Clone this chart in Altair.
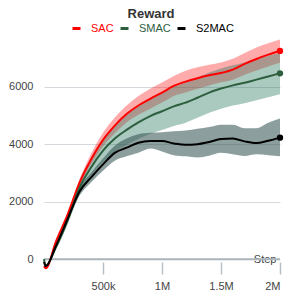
import altair as alt
import pandas as pd

steps = [0, 15000, 100000, 200000, 300000, 400000, 500000, 600000, 700000, 800000, 900000,
         1000000, 1100000, 1200000, 1300000, 1400000, 1500000, 1600000, 1700000, 1800000,
         1900000, 2000000]

sac_mean = [-250, -320, 600, 1550, 2650, 3480, 4150, 4650, 5050, 5350, 5580,
            5800, 6030, 6180, 6300, 6400, 6480, 6600, 6800, 6970, 7120, 7250]
sac_lo = [-250, -320, 580, 1480, 2520, 3300, 3920, 4380, 4760, 5030, 5240,
          5450, 5680, 5800, 5930, 6050, 6160, 6250, 6420, 6570, 6710, 6840]
sac_hi = [-250, -320, 620, 1620, 2780, 3680, 4400, 4930, 5350, 5680, 5930,
          6150, 6380, 6560, 6680, 6770, 6850, 6980, 7180, 7370, 7520, 7650]

smac_mean = [0, -230, 400, 1350, 2480, 3200, 3780, 4200, 4500, 4760, 4980,
             5150, 5320, 5450, 5620, 5800, 5940, 6050, 6140, 6250, 6360, 6470]
smac_lo = [0, -230, 330, 1200, 2240, 2870, 3380, 3730, 3980, 4190, 4370,
           4500, 4640, 4750, 4920, 5100, 5240, 5350, 5430, 5530, 5640, 5740]
smac_hi = [0, -230, 470, 1500, 2720, 3530, 4180, 4670, 5020, 5330, 5590,
           5800, 6000, 6150, 6320, 6500, 6640, 6750, 6850, 6970, 7080, 7190]

s2mac_mean = [-100, -250, 450, 1400, 2350, 2850, 3300, 3700, 3880, 4050, 4110,
              4110, 4030, 3980, 4000, 4080, 4180, 4200, 4100, 4040, 4120, 4230]
s2mac_lo = [-100, -250, 420, 1320, 2200, 2680, 3080, 3430, 3580, 3700, 3850,
            3750, 3620, 3580, 3540, 3600, 3700, 3650, 3590, 3650, 3620, 3580]
s2mac_hi = [-100, -250, 480, 1480, 2480, 3020, 3500, 3950, 4200, 4350, 4400,
            4420, 4450, 4480, 4540, 4600, 4680, 4680, 4560, 4560, 4750, 4900]

series = ["SAC", "SMAC", "S2MAC"]
line_colors = ["#ff0000", "#2d5e3e", "#000000"]
band_colors = ["#ff0000", "#2b785f", "#2f4f4f"]
band_opacity = [0.33, 0.4, 0.55]

rows = []
for name, m, lo, hi in [("SAC", sac_mean, sac_lo, sac_hi),
                        ("SMAC", smac_mean, smac_lo, smac_hi),
                        ("S2MAC", s2mac_mean, s2mac_lo, s2mac_hi)]:
    for s, a, b, c in zip(steps, m, lo, hi):
        rows.append({"step": s, "series": name, "mean": a, "lo": b, "hi": c})
df = pd.DataFrame(rows)

W = 236
H = 224
xscale = alt.Scale(domain=[0, 2000000], nice=False)
yscale = alt.Scale(domain=[-100, 7700], nice=False, zero=False)

base = alt.Chart(df)

x_label_expr = "datum.value >= 1000000 ? format(datum.value / 1000000, '~g') + 'M' : format(datum.value / 1000, '~g') + 'k'"

x_enc = alt.X("step:Q", scale=xscale,
              axis=alt.Axis(values=[500000, 1000000, 1500000, 2000000], labelExpr=x_label_expr,
                            grid=False, domain=False, tickSize=12, tickColor="#b8c0c6",
                            tickWidth=1.5, labelPadding=6, labelColor="#444",
                            labelFontSize=11, labelFont="Liberation Sans",
                            title="Step", titleX=W - 4, titleY=-3, titleAlign="right",
                            titleBaseline="middle", titleAnchor="end",
                            titleFontWeight="normal", titleFontSize=11,
                            titleColor="#444", titleFont="Liberation Sans"))
y_axis = alt.Axis(values=[0, 2000, 4000, 6000], format="d", grid=True,
                  gridColor="#d5d9dd", domain=False, ticks=False, labelPadding=11,
                  labelColor="#444", labelFontSize=11, labelFont="Liberation Sans",
                  title=None)

band_layers = []
for name, col, op in zip(series, band_colors, band_opacity):
    band_layers.append(
        base.transform_filter(alt.datum.series == name)
        .mark_area(interpolate="monotone", color=col, opacity=op)
        .encode(x=x_enc, y=alt.Y("lo:Q", scale=yscale, axis=y_axis), y2="hi:Q")
    )

zero = alt.Chart(pd.DataFrame({"y": [0]})).mark_rule(color="#aab4bc", strokeWidth=2).encode(
    y=alt.Y("y:Q", scale=yscale)
)

label_expr = "datum.label == 'SAC' ? '#ff0000' : (datum.label == 'SMAC' ? '#2d5e3e' : '#000000')"

color_enc = alt.Color("series:N", scale=alt.Scale(domain=series, range=line_colors),
                      legend=alt.Legend(orient="none", legendX=27, legendY=-15,
                                        direction="horizontal", title=None,
                                        gridAlign="none",
                                        symbolType="stroke", symbolStrokeWidth=3,
                                        symbolSize=64, labelFontSize=11,
                                        labelFont="Liberation Sans",
                                        labelColor={"expr": label_expr},
                                        labelOffset=9, columnPadding=0))

lines = base.mark_line(interpolate="monotone", strokeWidth=2).encode(
    x=alt.X("step:Q", scale=xscale),
    y=alt.Y("mean:Q", scale=yscale),
    color=color_enc,
)

ends = base.transform_filter(alt.datum.step == 2000000).mark_circle(size=40, opacity=1).encode(
    x=alt.X("step:Q", scale=xscale),
    y=alt.Y("mean:Q", scale=yscale),
    color=color_enc,
)

chart = alt.layer(zero, *band_layers, lines, ends).properties(
    width=W, height=H,
    title=alt.TitleParams("Reward", fontSize=13, fontWeight="bold", color="#333",
                          font="Liberation Sans", anchor="middle", dx=-11, offset=2),
    padding={"left": 0, "top": 0, "right": 5, "bottom": 0},
).configure_view(stroke=None)

chart.save("out.html", embed_options={"renderer": "svg", "actions": False})
